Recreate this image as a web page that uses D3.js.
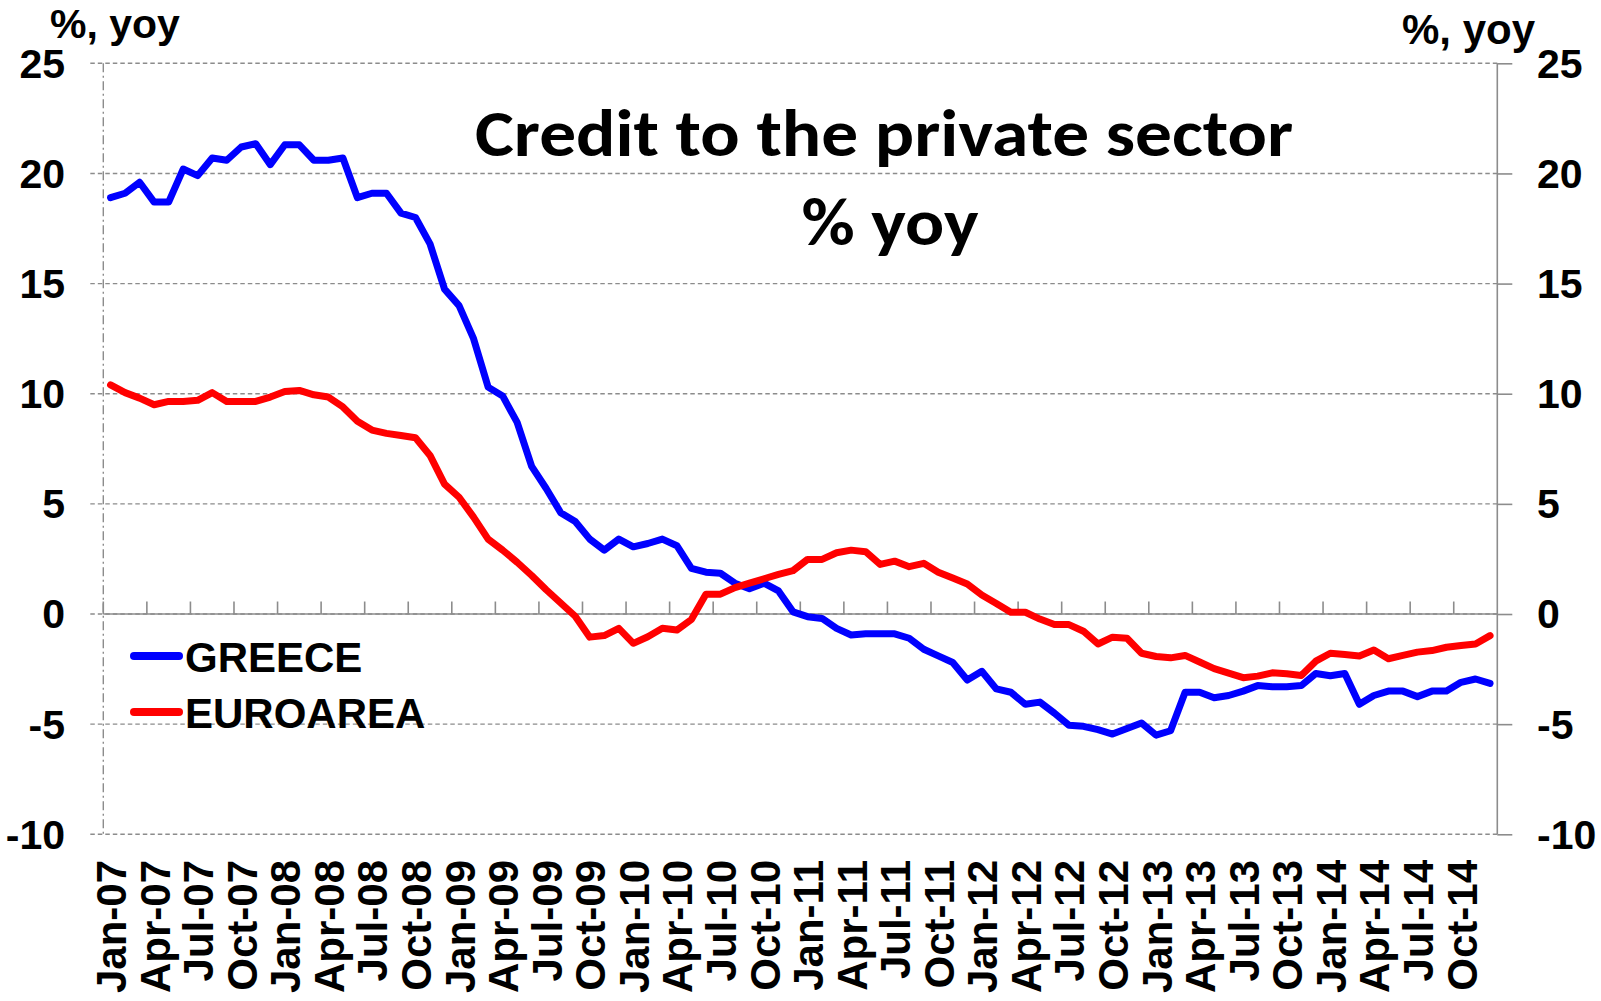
<!DOCTYPE html>
<html>
<head>
<meta charset="utf-8">
<script src="https://cdn.jsdelivr.net/npm/d3@7"></script>
<style>
  html, body { margin: 0; padding: 0; background: #fff; }
  svg { display: block; }
  .lbl { font-family: "Liberation Sans", Arial, sans-serif; font-weight: bold; fill: #000; }
  .title { font-family: Carlito, Calibri, Lato, "Open Sans", sans-serif; font-weight: bold; fill: #000; }
</style>
</head>
<body>
<svg id="chart" width="1601" height="1001"></svg>
<script>
// Monthly categories, Jan-2007 .. Dec-2014
const monthNames = ["Jan","Feb","Mar","Apr","May","Jun","Jul","Aug","Sep","Oct","Nov","Dec"];
const years = ["07","08","09","10","11","12","13","14"];
const categories = years.flatMap(yy => monthNames.map(m => `${m}-${yy}`));

// Labels shown on the category axis (every third month)
const tickLabels = [
  "Jan-07","Apr-07","Jul-07","Oct-07","Jan-08","Apr-08","Jul-08","Oct-08",
  "Jan-09","Apr-09","Jul-09","Oct-09","Jan-10","Apr-10","Jul-10","Oct-10",
  "Jan-11","Apr-11","Jul-11","Oct-11","Jan-12","Apr-12","Jul-12","Oct-12",
  "Jan-13","Apr-13","Jul-13","Oct-13","Jan-14","Apr-14","Jul-14","Oct-14"
];

// Credit to the private sector, % yoy — Greece
const greece = [
  18.9, 19.1, 19.6, 18.7, 18.7, 20.2, 19.9, 20.7, 20.6, 21.2, 21.35, 20.4,
  21.3, 21.3, 20.6, 20.6, 20.7, 18.9, 19.1, 19.1, 18.2, 18.0, 16.8, 14.75,
  14.0, 12.5, 10.3, 9.9, 8.7, 6.7, 5.7, 4.6, 4.2, 3.4, 2.9, 3.4,
  3.05, 3.2, 3.4, 3.1, 2.07, 1.9, 1.85, 1.4, 1.15, 1.4, 1.05, 0.1,
  -0.12, -0.2, -0.65, -0.95, -0.9, -0.9, -0.9, -1.1, -1.6, -1.9, -2.2, -3.0,
  -2.6, -3.4, -3.55, -4.1, -4.0, -4.5, -5.05, -5.1, -5.25, -5.45, -5.2, -4.95,
  -5.5, -5.3, -3.55, -3.55, -3.8, -3.7, -3.5, -3.25, -3.3, -3.3, -3.25, -2.7,
  -2.8, -2.7, -4.1, -3.7, -3.5, -3.5, -3.75, -3.5, -3.5, -3.1, -2.95, -3.15
];

// Credit to the private sector, % yoy — Euro area
const euroarea = [
  10.4, 10.05, 9.8, 9.5, 9.65, 9.65, 9.7, 10.05, 9.65, 9.65, 9.65, 9.85,
  10.1, 10.15, 9.95, 9.85, 9.4, 8.75, 8.35, 8.2, 8.1, 8.0, 7.2, 5.9,
  5.3, 4.4, 3.4, 2.9, 2.35, 1.75, 1.1, 0.5, -0.1, -1.05, -0.98, -0.65,
  -1.33, -1.03, -0.65, -0.73, -0.25, 0.9, 0.9, 1.2, 1.4, 1.6, 1.8, 1.97,
  2.48, 2.48, 2.78, 2.9, 2.83, 2.25, 2.4, 2.15, 2.3, 1.9, 1.63, 1.36,
  0.86, 0.48, 0.08, 0.08, -0.23, -0.48, -0.48, -0.78, -1.36, -1.05, -1.1, -1.78,
  -1.93, -1.99, -1.88, -2.18, -2.48, -2.68, -2.89, -2.82, -2.67, -2.71, -2.79, -2.14,
  -1.78, -1.84, -1.91, -1.63, -2.03, -1.88, -1.73, -1.66, -1.51, -1.43, -1.36, -0.98
];

const yTicks = [-10, -5, 0, 5, 10, 15, 20, 25];

const series = [
  { name: "GREECE", values: greece, color: "#0000FF" },
  { name: "EUROAREA", values: euroarea, color: "#FF0000" }
];

const svg = d3.select("#chart");
const plotLeft = 103.3, plotRight = 1497.3, plotTop = 63.3, plotBottom = 834.3;
const grey = "#8c8c8c";

const x = d3.scaleBand().domain(categories).range([plotLeft, plotRight]).padding(0);
const y = d3.scaleLinear().domain([-10, 25]).range([plotBottom, plotTop]);
const cx = c => x(c) + x.bandwidth() / 2;

// Horizontal dashed gridlines (extend out as left-axis ticks)
svg.append("g").selectAll("line").data(yTicks).join("line")
  .attr("x1", plotLeft - 13).attr("x2", plotRight)
  .attr("y1", d => y(d)).attr("y2", d => y(d))
  .attr("stroke", grey).attr("stroke-width", 1.4)
  .attr("stroke-dasharray", "4.5,3");

// Left value axis: dash-dot line
svg.append("line")
  .attr("x1", plotLeft).attr("x2", plotLeft).attr("y1", plotTop).attr("y2", plotBottom)
  .attr("stroke", grey).attr("stroke-width", 1.4)
  .attr("stroke-dasharray", "9,3.5,2,3.5");

// Right value axis: solid line with outward ticks
const rightAxis = d3.axisRight(y).tickValues(yTicks).tickSize(15).tickFormat("");
const gR = svg.append("g").attr("transform", `translate(${plotRight},0)`).call(rightAxis);
gR.select(".domain").attr("stroke", grey).attr("stroke-width", 1.6).attr("d", `M0,${plotTop}V${plotBottom}`);
gR.selectAll(".tick line").attr("stroke", grey).attr("stroke-width", 1.6);

// Category axis drawn at zero, ticks every third month pointing up
const tickCats = categories.filter((d, i) => i % 3 === 0);
const xAxisG = svg.append("g");
xAxisG.append("line")
  .attr("x1", plotLeft).attr("x2", plotRight).attr("y1", y(0)).attr("y2", y(0))
  .attr("stroke", grey).attr("stroke-width", 1.6);
xAxisG.selectAll("line.tk").data(tickCats).join("line").attr("class", "tk")
  .attr("x1", d => x(d)).attr("x2", d => x(d))
  .attr("y1", y(0)).attr("y2", y(0) - 12.5)
  .attr("stroke", grey).attr("stroke-width", 1.6);

// Category labels, rotated, along the bottom of the plot
svg.append("g").selectAll("text").data(tickLabels).join("text")
  .attr("class", "lbl")
  .attr("transform", d => `translate(${cx(d)},860) rotate(-90)`)
  .attr("text-anchor", "end")
  .attr("dy", "0.37em")
  .style("font-size", "42px")
  .text(d => d);

// Value labels, both sides
svg.append("g").selectAll("text").data(yTicks).join("text")
  .attr("class", "lbl").attr("x", 65).attr("y", d => y(d))
  .attr("dy", "0.35em").attr("text-anchor", "end")
  .style("font-size", "41px").text(d => d);
svg.append("g").selectAll("text").data(yTicks).join("text")
  .attr("class", "lbl").attr("x", 1537).attr("y", d => y(d))
  .attr("dy", "0.35em").attr("text-anchor", "start")
  .style("font-size", "41px").text(d => d);

// Unit labels
svg.append("text").attr("class", "lbl").attr("x", 50).attr("y", 38)
  .style("font-size", "41px").text("%, yoy");
svg.append("text").attr("class", "lbl").attr("x", 1402).attr("y", 44)
  .style("font-size", "42px").text("%, yoy");

// Series lines
const line = d3.line().x((d, i) => cx(categories[i])).y(d => y(d));
svg.append("g").selectAll("path").data(series).join("path")
  .attr("d", d => line(d.values))
  .attr("fill", "none")
  .attr("stroke", d => d.color)
  .attr("stroke-width", 7)
  .attr("stroke-linejoin", "round")
  .attr("stroke-linecap", "round");

// Title
svg.append("text").attr("class", "title")
  .attr("x", 884).attr("y", 156).attr("text-anchor", "middle")
  .attr("textLength", 818).attr("lengthAdjust", "spacingAndGlyphs")
  .style("font-size", "67px").text("Credit to the private sector");
svg.append("text").attr("class", "title")
  .attr("x", 890).attr("y", 245).attr("text-anchor", "middle")
  .attr("textLength", 177).attr("lengthAdjust", "spacingAndGlyphs")
  .style("font-size", "67px").text("% yoy");

// Legend
const legend = svg.append("g");
const legendRows = [656, 712];
series.forEach((s, i) => {
  legend.append("line")
    .attr("x1", 134).attr("x2", 179)
    .attr("y1", legendRows[i]).attr("y2", legendRows[i])
    .attr("stroke", s.color).attr("stroke-width", 8).attr("stroke-linecap", "round");
  legend.append("text").attr("class", "lbl")
    .attr("x", 185).attr("y", legendRows[i] + 16)
    .style("font-size", "42px").text(s.name);
});
</script>
</body>
</html>
